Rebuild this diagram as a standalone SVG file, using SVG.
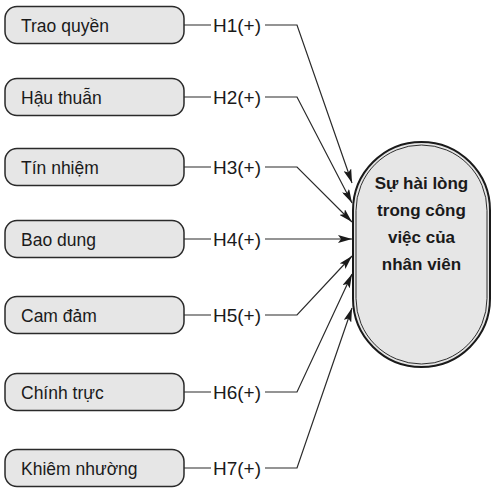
<svg xmlns="http://www.w3.org/2000/svg" width="495" height="494" viewBox="0 0 495 494">
<defs>
<style>
.box{fill:#e6e6e6;stroke:#2a2a2a;stroke-width:1.5}
.lbl{font-family:"Liberation Sans",Arial,sans-serif;font-size:17.5px;fill:#1a1a1a}
.h{font-family:"Liberation Sans",Arial,sans-serif;font-size:19px;fill:#1a1a1a}
.c{fill:none;stroke:#2a2a2a;stroke-width:1.2}
.t{font-family:"Liberation Sans",Arial,sans-serif;font-size:17px;font-weight:bold;fill:#1a1a1a;text-anchor:middle}
</style>
<marker id="ah" viewBox="0 0 14 8" refX="14" refY="4" markerWidth="14" markerHeight="8" markerUnits="userSpaceOnUse" orient="auto">
<path d="M0,0 L14,4 L0,8 L3,4 Z" fill="#1a1a1a"/>
</marker>
</defs>
<rect width="495" height="494" fill="#ffffff"/>
<g id="connectors">
<path class="c" d="M184,25 H211 M265,25 H297 L352,183" marker-end="url(#ah)"/>
<path class="c" d="M184,97 H211 M265,97 H297 L352,203" marker-end="url(#ah)"/>
<path class="c" d="M184,167 H211 M265,167 H297 L352,222" marker-end="url(#ah)"/>
<path class="c" d="M184,239 H211 M265,239 H352" marker-end="url(#ah)"/>
<path class="c" d="M184,315 H211 M265,315 H297 L352,256" marker-end="url(#ah)"/>
<path class="c" d="M184,392 H211 M265,392 H297 L352,274" marker-end="url(#ah)"/>
<path class="c" d="M184,468 H211 M265,468 H297 L352,308" marker-end="url(#ah)"/>
<text class="h" x="213" y="32">H1(+)</text>
<text class="h" x="213" y="104">H2(+)</text>
<text class="h" x="213" y="174">H3(+)</text>
<text class="h" x="213" y="246">H4(+)</text>
<text class="h" x="213" y="322">H5(+)</text>
<text class="h" x="213" y="399">H6(+)</text>
<text class="h" x="213" y="475">H7(+)</text>
</g>
<g id="n1"><rect class="box" x="5" y="6.5" width="179" height="37" rx="12"/><text class="lbl" x="21" y="31.5">Trao quyền</text></g>
<g id="n2"><rect class="box" x="5" y="78.5" width="179" height="37" rx="12"/><text class="lbl" x="21" y="103.5">Hậu thuẫn</text></g>
<g id="n3"><rect class="box" x="5" y="148.5" width="179" height="37" rx="12"/><text class="lbl" x="21" y="173.5">Tín nhiệm</text></g>
<g id="n4"><rect class="box" x="5" y="220.5" width="179" height="37" rx="12"/><text class="lbl" x="21" y="245.5">Bao dung</text></g>
<g id="n5"><rect class="box" x="5" y="296.5" width="179" height="37" rx="12"/><text class="lbl" x="21" y="321.5">Cam đảm</text></g>
<g id="n6"><rect class="box" x="5" y="373.5" width="179" height="37" rx="12"/><text class="lbl" x="21" y="398.5">Chính trực</text></g>
<g id="n7"><rect class="box" x="5" y="449.5" width="179" height="37" rx="12"/><text class="lbl" x="21" y="474.5">Khiêm nhường</text></g>
<g id="target">
<rect x="353" y="142" width="137" height="225" rx="68.5" fill="#e6e6e6" stroke="#1a1a1a" stroke-width="2"/>
<rect x="356" y="145" width="131" height="219" rx="65.5" fill="none" stroke="#1a1a1a" stroke-width="0.9"/>
<text class="t" x="421.5" y="189">Sự hài lòng</text>
<text class="t" x="421.5" y="216">trong công</text>
<text class="t" x="421.5" y="243">việc của</text>
<text class="t" x="421.5" y="270">nhân viên</text>
</g>
</svg>
